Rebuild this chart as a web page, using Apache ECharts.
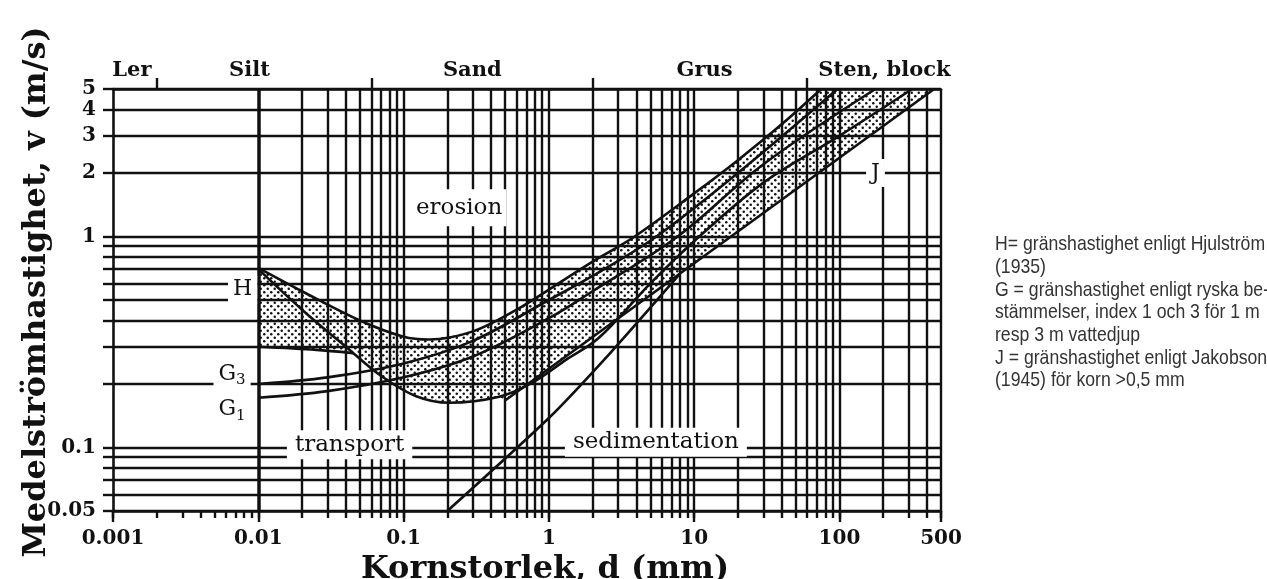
<!DOCTYPE html>
<html><head><meta charset="utf-8">
<script src="https://cdn.jsdelivr.net/npm/echarts@6/dist/echarts.min.js"></script>
<style>html,body{margin:0;padding:0;background:#fff}#c{width:1267px;height:579px}</style>
</head><body><div id="c"></div>
<script>
// ---- data (d in mm, v in m/s) ----
const hUpper = [[0.01,0.71],[0.02,0.55],[0.05,0.40],[0.1,0.335],[0.15,0.325],[0.3,0.355],[0.6,0.45],[1,0.56],[2,0.76],[3.9,1.0],[10,1.6],[20,2.3],[40,3.4],[75,5]];
const hLower = [[0.01,0.70],[0.02,0.45],[0.0425,0.29],[0.071,0.217],[0.122,0.175],[0.206,0.163],[0.455,0.174],[0.77,0.203],[1.31,0.26],[2.2,0.33],[5,0.6],[10,0.95],[30,1.8],[100,3.0],[317,5]];
const hLeftEdge = [[0.01,0.30],[0.025,0.29],[0.045,0.28]];
const g3 = [[0.01,0.20],[0.03,0.215],[0.1,0.25],[0.3,0.32],[1,0.5],[2,0.65],[5.5,1.0],[20,2.0],[97,5]];
const g1 = [[0.01,0.172],[0.03,0.185],[0.1,0.215],[0.3,0.27],[1,0.41],[2,0.55],[7.7,1.0],[30,2.2],[177,5]];
const jakobson = [[0.5,0.167],[449,5]];
const sedimentation = [[0.2,0.05],[1,0.138],[2.7,0.285],[8,0.667]];

const xTickLabels = [0.001,0.01,0.1,1,10,100,500];
const yTickLabels = [0.05,0.1,1,2,3,4,5];
const classBounds = [0.002,0.06,2,60];
const classNames = ['Ler','Silt','Sand','Grus','Sten, block'];
const classCenters = [0.00135,0.0087,0.297,11.8,204];
const gridMultipliers = [1,2,3,4,5,6,7,8,9];
const xDecades = [0.001,0.01,0.1,1,10,100];
const yDecades = [0.01,0.1,1];
const xMin = 0.001, xMax = 500, yMin = 0.05, yMax = 5;

const zoneLabels = [
  {name:'erosion', pos:[0.241,1.37], pad:[7,4]},
  {name:'transport', pos:[0.0425,0.103], pad:[3,8]},
  {name:'sedimentation', pos:[5.45,0.106], pad:[3,8]}
];
const curveLabels = [
  {name:'H', pos:[0.0078,0.56]},
  {name:'G{s|3}', pos:[0.0066,0.222]},
  {name:'G{s|1}', pos:[0.0066,0.151]},
  {name:'J', pos:[177,2]}
];
const noteLines = [
  'H= gränshastighet enligt Hjulström',
  '(1935)',
  'G = gränshastighet enligt ryska be-',
  'stämmelser, index 1 och 3 för 1 m',
  'resp 3 m vattedjup',
  'J = gränshastighet enligt Jakobson',
  '(1945) för korn >0,5 mm'
];

// ---- derived ----
function gridVals(decades, lo, hi){
  const out=[];
  decades.forEach(d=>gridMultipliers.forEach(m=>{const v=parseFloat((m*d).toPrecision(6)); if(v>=lo-1e-12&&v<=hi+1e-12) out.push(v);}));
  [200,300,400,500].forEach(v=>{if(v<=hi&&out.indexOf(v)<0&&v>=lo) out.push(v);});
  return out;
}
const xGridValues = gridVals(xDecades, xMin, xMax);
const yGridValues = gridVals(yDecades, yMin, yMax);

// shading polygon built from the curve arrays
const shadePolygon = [].concat(hUpper, [[449,5]], jakobson.slice().reverse().slice(1),
  hLower.filter(p=>p[0]<=0.46).reverse(), hLeftEdge.slice().reverse());

// dot pattern
const pc = document.createElement('canvas'); pc.width=7; pc.height=7;
const px = pc.getContext('2d'); px.fillStyle='#111';
[[1.75,1.75],[5.25,5.25]].forEach(p=>{px.beginPath();px.arc(p[0],p[1],1.25,0,Math.PI*2);px.fill();});

const INK='#111';
const serifB = "'DejaVu Serif', serif";
const fmt = v => String(parseFloat((+v).toPrecision(3)));

function curve(name, data, smooth){
  return {type:'line', name, data, smooth: smooth, symbol:'none', showSymbol:false, silent:true,
    lineStyle:{color:INK, width:2.6}, z:4, clip:true};
}
const labelBase = {opacity:1, textBorderWidth:0, textShadowBlur:0};

const chart = echarts.init(document.getElementById('c'), null, {renderer:'canvas'});
chart.setOption({
  animation:false,
  backgroundColor:'#fff',
  grid:{left:113, right:326, top:89, bottom:68, containLabel:false, outerBoundsMode:'none'},
  xAxis:[{
    type:'log', min:xMin, max:xMax, logBase:10,
    name:'Kornstorlek, d (mm)', nameLocation:'middle', nameGap:31,
    nameTextStyle:{fontFamily:serifB, fontWeight:'bold', fontSize:32, color:INK, padding:[0,0,0,36]},
    axisLine:{show:true, lineStyle:{color:INK, width:2.6}},
    axisTick:{show:true, customValues:xGridValues, length:7, lineStyle:{color:INK, width:2.4}},
    axisLabel:{show:true, customValues:xTickLabels, formatter:fmt, margin:18, fontFamily:serifB, fontWeight:'bold', fontSize:20, color:INK},
    splitLine:{show:false}, minorTick:{show:false}
  },{
    type:'log', min:xMin, max:xMax, position:'top',
    axisLine:{show:true, lineStyle:{color:INK, width:2.6}},
    axisTick:{show:true, customValues:classBounds, length:11, lineStyle:{color:INK, width:2.4}},
    axisLabel:{show:false}, splitLine:{show:false}
  },{
    type:'log', min:xMin, max:xMax, position:'bottom',
    axisLine:{show:false},
    axisTick:{show:true, customValues:xTickLabels, length:11, lineStyle:{color:INK, width:2.4}},
    axisLabel:{show:false}, splitLine:{show:false}
  }],
  yAxis:[{
    type:'log', min:yMin, max:yMax, logBase:10,
    name:'Medelströmhastighet, v (m/s)', nameLocation:'middle', nameGap:60, nameMoveOverlap:false,
    nameTextStyle:{fontFamily:serifB, fontWeight:'bold', fontSize:32, color:INK, padding:[0,0,0,16]},
    axisLine:{show:true, lineStyle:{color:INK, width:2.6}},
    axisTick:{show:true, customValues:yGridValues, length:10, lineStyle:{color:INK, width:2.4}},
    axisLabel:{show:true, customValues:yTickLabels, formatter:fmt, margin:17, fontFamily:serifB, fontWeight:'bold', fontSize:20, color:INK},
    splitLine:{show:false}
  }],
  series:[
    {type:'line', name:'grid', data:[[xMin,yMin]], symbol:'none', silent:true, z:1, lineStyle:{width:0},
      markLine:{silent:true, symbol:['none','none'], label:{show:false}, animation:false,
        lineStyle:{color:INK, width:2.4, type:'solid', opacity:1}, emphasis:{disabled:true},
        data:[].concat(xGridValues.map(v=>({xAxis:v})), yGridValues.map(v=>({yAxis:v})))}},
    {type:'custom', name:'shade', silent:true, z:2, clip:true, data:[0],
      renderItem:function(params, api){
        const pts = shadePolygon.map(p=>api.coord(p));
        return {type:'polygon', shape:{points:pts}, style:{fill:{image:pc, repeat:'repeat'}, stroke:null}};
      }},
    curve('H upper', hUpper, 0.35),
    curve('H lower', hLower, 0.35),
    curve('H left', hLeftEdge, 0.3),
    curve('G3', g3, 0.35),
    curve('G1', g1, 0.35),
    curve('J', jakobson, false),
    curve('sedimentation', sedimentation, 0.2),
    {type:'scatter', name:'classes', silent:true, z:6, symbolSize:0, clip:false, itemStyle:{opacity:1},
      data:classCenters.map((c,i)=>({value:[c,yMax], name:classNames[i]})),
      label:Object.assign({show:true, position:'top', distance:8, formatter:'{b}', fontFamily:serifB, fontWeight:'bold', fontSize:21, color:INK}, labelBase)},
    {type:'scatter', name:'zones', silent:true, z:6, symbolSize:0, clip:false, itemStyle:{opacity:1},
      data:zoneLabels.map(z=>({value:z.pos, name:z.name, label:{padding:z.pad}})),
      label:Object.assign({show:true, position:'inside', formatter:'{b}', fontFamily:serifB, fontSize:23, color:INK, backgroundColor:'#fff'}, labelBase)},
    {type:'scatter', name:'curvelabels', silent:true, z:6, symbolSize:0, clip:false, itemStyle:{opacity:1},
      data:curveLabels.map(z=>({value:z.pos, name:z.name})),
      label:Object.assign({show:true, position:'inside', formatter:'{b}', fontFamily:serifB, fontSize:22, color:INK, backgroundColor:'#fff', padding:[3,5],
        rich:{s:{fontFamily:serifB, fontSize:15, color:INK, verticalAlign:'bottom', padding:[12,0,0,0]}}}, labelBase)}
  ],
  graphic:[{type:'text', left:995, top:233, silent:true, scaleX:0.84,
    style:{text:noteLines.join('\n'), fill:'#333', fontSize:21, lineHeight:22.7,
      fontFamily:"'Liberation Sans', Arial, sans-serif"}}]
});
</script></body></html>
